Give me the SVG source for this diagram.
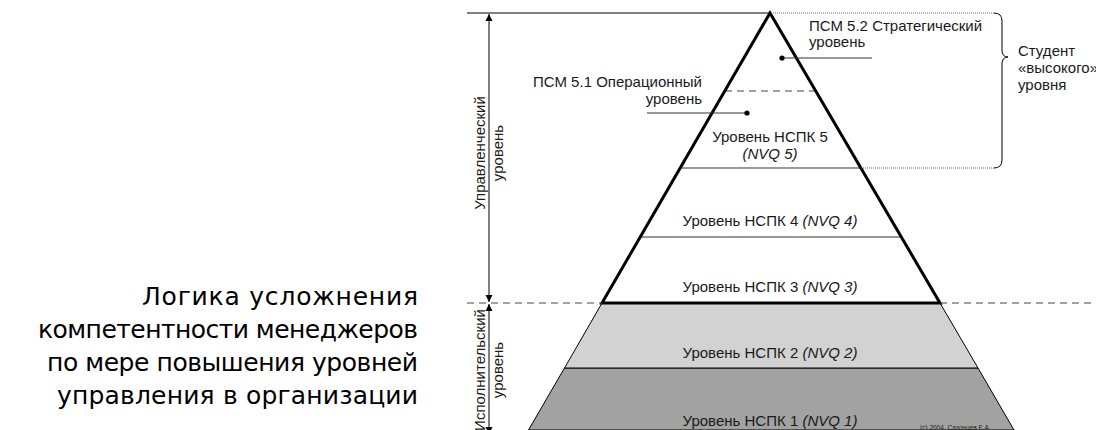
<svg xmlns="http://www.w3.org/2000/svg" width="1096" height="430" viewBox="0 0 1096 430">
  <style>
    .lbl { font-family: "Liberation Sans", Arial, sans-serif; font-size: 15px; fill: #1a1a1a; }
    .mid { text-anchor: middle; }
    .it { font-style: italic; }
    .title { font-family: "DejaVu Sans", "Liberation Sans", sans-serif; font-size: 25px; fill: #000; text-anchor: end; }
    .thin { stroke: #000; stroke-width: 1; fill: none; }
    .level { stroke: #333; stroke-width: 1; fill: none; }
    .dash { stroke: #444; stroke-width: 1; stroke-dasharray: 7 5; fill: none; }
    .dot { stroke: #666; stroke-width: 1; stroke-dasharray: 1 1; fill: none; }
    .thick { stroke: #000; stroke-width: 3; fill: none; stroke-linejoin: miter; }
    .ptr { stroke: #333; stroke-width: 1.2; fill: none; }
  </style>
  <defs>
    <marker id="head" viewBox="0 0 10 10" refX="10" refY="5" markerWidth="7" markerHeight="9" markerUnits="userSpaceOnUse" orient="auto-start-reverse">
      <path d="M0,0 L10,5 L0,10 Z" fill="#000"/>
    </marker>
  </defs>

  <rect width="1096" height="430" fill="#fff"/>

  <!-- title -->
  <g id="title">
    <text class="title" x="418" y="305" textLength="276">Логика усложнения</text>
    <text class="title" x="418" y="338" textLength="380">компетентности менеджеров</text>
    <text class="title" x="418" y="371" textLength="371">по мере повышения уровней</text>
    <text class="title" x="418" y="404" textLength="361">управления в организации</text>
  </g>

  <!-- lower (shaded) tiers -->
  <g id="tier1">
    <polygon points="564.5,368 978,368 1014,430 528.5,430" fill="#a2a2a2" stroke="#000" stroke-width="1"/>
    <text class="lbl mid" x="770" y="426">Уровень НСПК 1 <tspan class="it">(NVQ 1)</tspan></text>
    <text x="920" y="429.5" font-family="Liberation Sans, Arial, sans-serif" font-size="6.5" fill="#222">(c) 2004, Сазонцев Е.А.</text>
  </g>
  <g id="tier2">
    <polygon points="602,303 940,303 978,368 564.5,368" fill="#d2d2d2" stroke="#000" stroke-width="1"/>
    <text class="lbl mid" x="770" y="358">Уровень НСПК 2 <tspan class="it">(NVQ 2)</tspan></text>
  </g>

  <!-- upper (management) tiers -->
  <g id="tier3">
    <text class="lbl mid" x="770" y="292">Уровень НСПК 3 <tspan class="it">(NVQ 3)</tspan></text>
  </g>
  <g id="tier4">
    <line class="level" x1="640" y1="237" x2="901" y2="237"/>
    <text class="lbl mid" x="770" y="226">Уровень НСПК 4 <tspan class="it">(NVQ 4)</tspan></text>
  </g>
  <g id="tier5">
    <line class="level" x1="680" y1="168" x2="861" y2="168"/>
    <text class="lbl mid" x="770" y="142">Уровень НСПК 5</text>
    <text class="lbl mid it" x="770" y="159">(NVQ 5)</text>
  </g>
  <g id="psm51">
    <line class="dash" x1="725" y1="91" x2="815" y2="91"/>
    <text class="lbl" x="702" y="87" text-anchor="end">ПСМ 5.1 Операционный</text>
    <text class="lbl" x="702" y="104" text-anchor="end">уровень</text>
  </g>
  <g id="psm52">
    <text class="lbl" x="809" y="31">ПСМ 5.2 Стратегический</text>
    <text class="lbl" x="809" y="47">уровень</text>
  </g>

  <!-- pyramid outline -->
  <g id="pyramid">
    <path class="thick" d="M602,303 L770,13 L940,303 Z"/>
  </g>

  <g id="student">
    <text class="lbl" x="1018" y="56">Студент</text>
    <text class="lbl" x="1018" y="73">«высокого»</text>
    <text class="lbl" x="1018" y="90">уровня</text>
  </g>

  <g id="level-labels">
    <text class="lbl mid" transform="translate(485,153) rotate(-90)">Управленческий</text>
    <text class="lbl mid" transform="translate(503,153) rotate(-90)">уровень</text>
    <text class="lbl mid" transform="translate(485,370) rotate(-90)">Исполнительский</text>
    <text class="lbl mid" transform="translate(503,370) rotate(-90)">уровень</text>
  </g>

  <!-- connectors: guides, braces, scale arrows, pointers -->
  <g id="connectors">
    <line class="thin" x1="467" y1="13" x2="770" y2="13"/>
    <line class="dash" x1="467" y1="303" x2="602" y2="303"/>
    <line class="dash" x1="940" y1="303" x2="1096" y2="303"/>
    <line class="dot" x1="771" y1="13" x2="994" y2="13"/>
    <line class="dot" x1="861" y1="168" x2="994" y2="168"/>
    <path class="thin" d="M994,13 Q1002,13 1002,21 L1002,50 Q1002,57 1008,57 Q1002,57 1002,64 L1002,160 Q1002,168 994,168"/>
    <line class="thin" x1="489" y1="14" x2="489" y2="302" marker-start="url(#head)" marker-end="url(#head)"/>
    <line class="thin" x1="489" y1="304" x2="489" y2="434" marker-start="url(#head)" marker-end="url(#head)"/>
    <line class="ptr" x1="647" y1="113" x2="747" y2="113"/>
    <circle cx="747" cy="113" r="2.6" fill="#000"/>
    <line class="ptr" x1="782" y1="58" x2="872" y2="58"/>
    <circle cx="782" cy="58" r="2.6" fill="#000"/>
  </g>
</svg>
